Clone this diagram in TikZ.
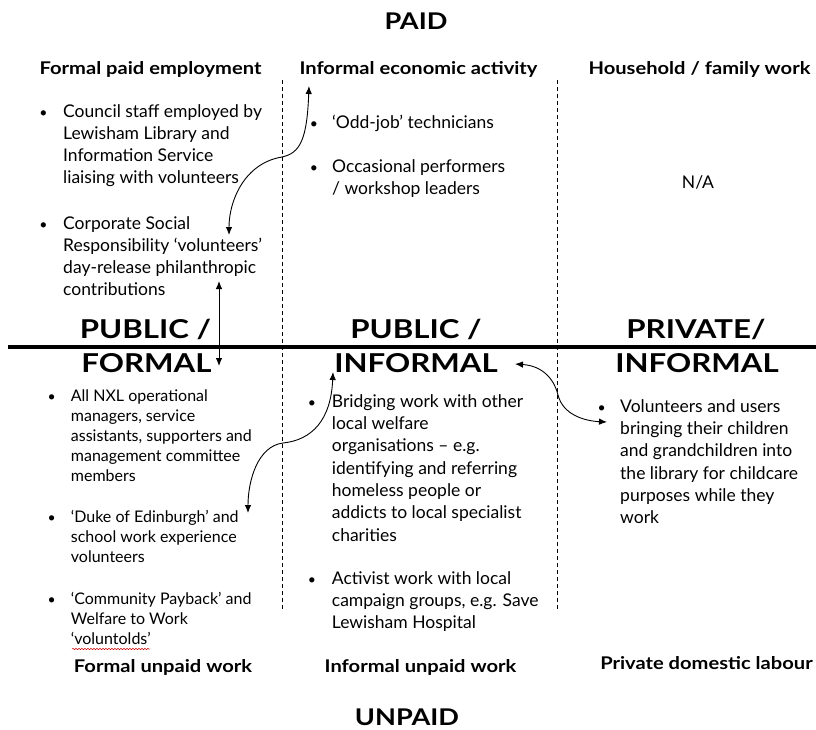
\documentclass[tikz,border=0pt]{standalone}
\usepackage{fontspec}
\setmainfont{Lato}
\usepackage{graphicx}
\usetikzlibrary{arrows.meta,decorations.pathmorphing}
\newcommand{\hs}[2]{\scalebox{#1}[1]{#2}}
\begin{document}
\begin{tikzpicture}[x=1pt,y=-1pt,
  body/.style={anchor=base west, inner sep=0pt, align=left, font=\fontsize{17.5}{22.3}\selectfont},
  bodysmall/.style={anchor=base west, inner sep=0pt, align=left, font=\fontsize{16}{20}\selectfont},
  bul/.style={anchor=base, inner sep=0pt, font=\fontsize{14}{16}\selectfont},
  head/.style={anchor=base, inner sep=0pt, font=\fontsize{17.5}{20}\selectfont\bfseries},
  big/.style={anchor=base, inner sep=0pt, font=\fontsize{26}{30}\selectfont\bfseries},
  axis/.style={anchor=base, inner sep=0pt, font=\fontsize{23}{26}\selectfont\bfseries},
  divider/.style={line width=0.8pt, dash pattern=on 4pt off 3pt},
  conn/.style={line width=0.9pt, {Latex[length=8pt,width=6.5pt]}-{Latex[length=8pt,width=6.5pt]}},
]
\useasboundingbox (0,0) rectangle (816,729);

% axis labels
\node[axis] (paid) at (416,29) {\hs{1.18}{PAID}};
\node[axis] (unpaid) at (407,725) {\hs{1.18}{UNPAID}};

% column headers
\node[head] (h1) at (150.5,74) {\hs{1.15}{Formal paid employment}};
\node[head] (h2) at (418.5,74) {\hs{1.15}{Informal economic activity}};
\node[head] (h3) at (699.5,74) {\hs{1.15}{Household / family work}};
\node[head] (f1) at (163,672) {\hs{1.15}{Formal unpaid work}};
\node[head] (f2) at (420.5,672) {\hs{1.15}{Informal unpaid work}};
\node[head] (f3) at (706.5,669) {\hs{1.15}{Private domestic labour}};

% dividers
\draw[divider] (282,80) -- (282,610);
\draw[divider] (557,80) -- (557,610);
\draw[line width=3.2pt] (8,347) -- (816,347);

% big labels
\node[big] (pub1) at (145.5,338) {\hs{1.2}{PUBLIC /}};
\node[big] (for1) at (146.5,372) {\hs{1.2}{FORMAL}};
\node[big] (pub2) at (416,338) {\hs{1.2}{PUBLIC /}};
\node[big] (inf2) at (416,372) {\hs{1.2}{INFORMAL}};
\node[big] (pri3) at (696,338) {\hs{1.2}{PRIVATE/}};
\node[big] (inf3) at (697,372) {\hs{1.2}{INFORMAL}};

% top-left (nodes anchored at the baseline of their last line)
\node[bul] (b1) at (43.5,117) {•};
\node[body] (t1) at (63,183.9) {Council staff employed by\\Lewisham Library and\\Information Service\\liaising with volunteers};
\node[bul] (b2) at (43.5,229) {•};
\node[body] (t2) at (63,295.9) {Corporate Social\\Responsibility ‘volunteers’\\day-release philanthropic\\contributions};

% top-middle
\node[bul] (b3) at (314,128.5) {•};
\node[body] (t3) at (332,128.5) {‘Odd-job’ technicians};
\node[bul] (b4) at (314,172.3) {•};
\node[body] (t4) at (332,194.6) {Occasional performers\\/ workshop leaders};

% top-right
\node[body, anchor=base] (na) at (698,188) {N/A};

% bottom-left
\node[bul] (b5) at (51.7,401.7) {•};
\node[bodysmall] (t5) at (70.7,481.7) {All NXL operational\\managers, service\\assistants, supporters and\\management committee\\members};
\node[bul] (b6) at (51.7,522.3) {•};
\node[bodysmall] (t6) at (70.7,562.3) {‘Duke of Edinburgh’ and\\school work experience\\volunteers};
\node[bul] (b7) at (51.7,604) {•};
\node[bodysmall] (t7) at (70.7,644) {‘Community Payback’ and\\Welfare to Work\\‘voluntolds’};
\draw[red!80!black, line width=0.5pt, decorate, decoration={snake, amplitude=0.7pt, segment length=3pt}] (72,649) -- (150,649);

% bottom-middle
\node[bul] (b8) at (312,407.3) {•};
\node[body] (t8) at (331.7,541.1) {Bridging work with other\\local welfare\\organisations – e.g.\\identifying and referring\\homeless people or\\addicts to local specialist\\charities};
\node[bul] (b9) at (312,584) {•};
\node[body] (t9) at (331.7,628.6) {Activist work with local\\campaign groups, e.g. Save\\Lewisham Hospital};

% bottom-right
\node[bul] (b10) at (601.7,412.3) {•};
\node[body] (t10) at (620,523.8) {Volunteers and users\\bringing their children\\and grandchildren into\\the library for childcare\\purposes while they\\work};

% connector end points
\coordinate (a1t) at (309,86);
\coordinate (a1b) at (229,235);
\coordinate (a2t) at (219,281);
\coordinate (a2b) at (219,366);
\coordinate (a3t) at (333,372);
\coordinate (a3b) at (248,513);
\coordinate (a4l) at (515,364);
\coordinate (a4r) at (607,422);

\draw[conn] (a1t) .. controls (307,140) and (300,153) .. (282,157) .. controls (245,163) and (229,200) .. (a1b);
\draw[conn] (a2t) -- (a2b);
\draw[conn] (a3t) .. controls (331,420) and (312,440) .. (283,443) .. controls (258,446) and (248,480) .. (a3b);
\draw[conn] (a4l) .. controls (545,366) and (555,382) .. (558,395) .. controls (563,415) and (585,421) .. (a4r);
\end{tikzpicture}
\end{document}
